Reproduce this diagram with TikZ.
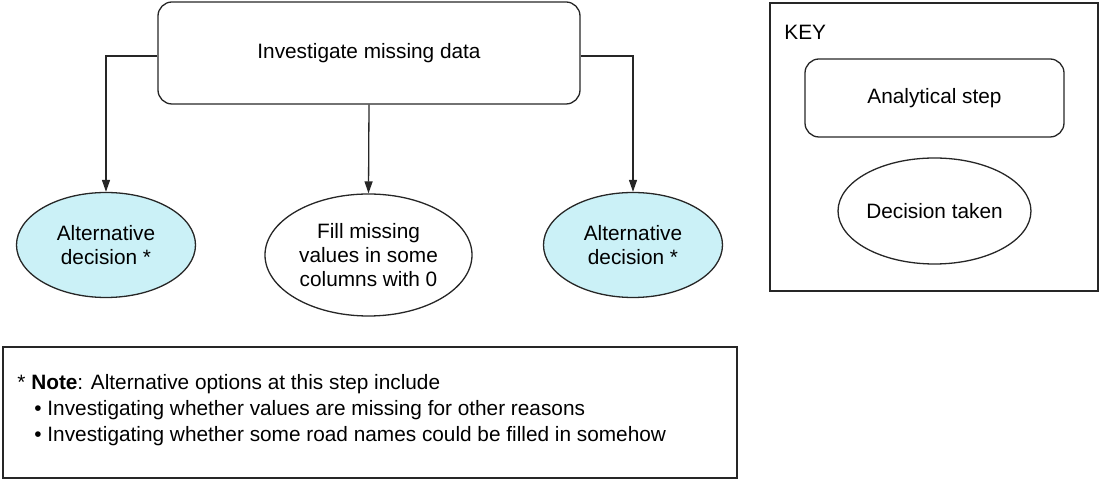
\documentclass[tikz,border=0pt]{standalone}
\usepackage{fontspec}
\setmainfont{Liberation Sans}
\usetikzlibrary{shapes.geometric,arrows.meta}
\definecolor{altfill}{HTML}{CBF1F7}
\tikzset{
  every node/.style={font=\fontsize{10.4}{12}\selectfont},
  line/.style={draw=black!85,line width=0.65pt},
  stepbox/.style={line,rectangle,rounded corners=7pt,align=center,inner sep=0pt},
  decision/.style={line,ellipse,align=center,inner sep=0pt},
  altdecision/.style={decision,fill=altfill},
  frame/.style={line,rectangle,inner sep=0pt},
  arr/.style={line,-{Triangle[length=6pt,width=4pt]}}
}
\begin{document}
\begin{tikzpicture}[x=0.5pt,y=-0.5pt]
\useasboundingbox (0,0) rectangle (1100,480);
\node[stepbox,minimum width=211pt,minimum height=51pt] (main) at (369,53) {Investigate missing data};
\node[altdecision,minimum width=89.5pt,minimum height=52.5pt] (alt1) at (106,245) {Alternative\\decision *};
\node[decision,minimum width=103.5pt,minimum height=61pt] (fill) at (368.5,255) {Fill missing\\values in some\\columns with 0};
\node[altdecision,minimum width=89.5pt,minimum height=52.5pt] (alt2) at (633,245) {Alternative\\decision *};
\draw[arr] ([yshift=-1.5pt]main.west) -| (alt1.north);
\draw[arr] (main.south) -- (fill.north);
\draw[arr] ([yshift=-1.5pt]main.east) -| (alt2.north);
% key
\node[frame,minimum width=164pt,minimum height=144pt] (key) at (934,147) {};
\node[anchor=west,inner sep=0pt] (keylabel) at (784,32) {KEY};
\node[stepbox,minimum width=129.5pt,minimum height=39pt] (keystep) at (934.5,98) {Analytical step};
\node[decision,minimum width=89.5pt,minimum height=53pt] (keydec) at (934.5,211) {Decision taken};
% note
\node[frame,minimum width=367pt,minimum height=65.5pt] (notebox) at (370,412.5) {};
\node[anchor=west,align=left,inner sep=0pt,font=\fontsize{10.4}{13}\selectfont] (note) at (17,410) {* \textbf{Note}: Alternative options at this step include\\
\hspace*{8.5pt}\textbullet\ Investigating whether values are missing for other reasons\\
\hspace*{8.5pt}\textbullet\ Investigating whether some road names could be filled in somehow};
\end{tikzpicture}
\end{document}
